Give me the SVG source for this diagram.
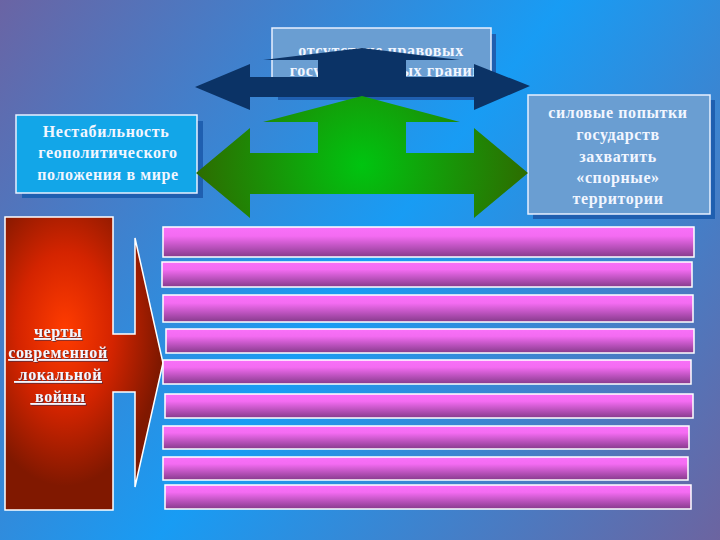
<svg xmlns="http://www.w3.org/2000/svg" width="720" height="540" viewBox="0 0 720 540">
<defs>
<linearGradient id="bg" x1="0" y1="0" x2="720" y2="540" gradientUnits="userSpaceOnUse">
<stop offset="0" stop-color="#6a64a4"/>
<stop offset="0.5" stop-color="#189cf4"/>
<stop offset="1" stop-color="#6c64a0"/>
</linearGradient>
<radialGradient id="gr" cx="362" cy="165" r="170" gradientUnits="userSpaceOnUse">
<stop offset="0" stop-color="#00c410"/>
<stop offset="1" stop-color="#2e6a00"/>
</radialGradient>
<radialGradient id="rd" cx="65" cy="330" r="120" gradientTransform="translate(65 330) scale(0.8 1.3) translate(-65 -330)" gradientUnits="userSpaceOnUse">
<stop offset="0" stop-color="#ff3c00"/>
<stop offset="0.5" stop-color="#d42400"/>
<stop offset="1" stop-color="#801800"/>
</radialGradient>
<linearGradient id="pk" x1="0" y1="0" x2="0" y2="1">
<stop offset="0" stop-color="#f870f8"/>
<stop offset="0.3" stop-color="#f46cf2"/>
<stop offset="1" stop-color="#863a8c"/>
</linearGradient>
<filter id="sh" x="-10%" y="-10%" width="120%" height="120%">
<feOffset dx="1" dy="1" in="SourceAlpha" result="o"/>
<feFlood flood-color="#2a2a4a" flood-opacity="0.6"/>
<feComposite in2="o" operator="in"/>
<feMerge><feMergeNode/><feMergeNode in="SourceGraphic"/></feMerge>
</filter>
</defs>
<style>
.t{font-family:"Liberation Serif","DejaVu Serif",serif;font-weight:bold;font-size:16px;fill:#f2f6ff;text-anchor:middle;letter-spacing:0.6px}
.box{stroke:#e8f0ff;stroke-width:1.5}
.shd{fill:#1f5fb0}
.bar{fill:url(#pk);stroke:#ffffff;stroke-width:1.5}
</style>
<rect width="720" height="540" fill="url(#bg)"/>

<g id="top-box">
<rect class="shd" x="278" y="34" width="218" height="66"/>
<rect class="box" x="272" y="28" width="219" height="67" fill="#6a9ed2"/>
<text class="t" x="381" y="56">отсутствие правовых</text>
<text class="t" x="386" y="76">государственных границ</text>
</g>

<g id="left-box">
<rect class="shd" x="22" y="121" width="181" height="77"/>
<rect class="box" x="16" y="115" width="181" height="78" fill="#12a6e8"/>
<text class="t" x="106" y="137">Нестабильность</text>
<text class="t" x="108" y="158">геополитического</text>
<text class="t" x="108" y="180">положения в мире</text>
</g>

<g id="right-box">
<rect class="shd" x="533" y="100" width="182" height="119"/>
<rect class="box" x="528" y="95" width="182" height="119" fill="#6a9ed2"/>
<text class="t" x="618" y="118">силовые попытки</text>
<text class="t" x="618" y="140">государств</text>
<text class="t" x="618" y="162">захватить</text>
<text class="t" x="618" y="183">«спорные»</text>
<text class="t" x="618" y="204">территории</text>
</g>

<g id="connectors">
<path id="dark-arrow" fill="#0b3366" d="M195,87 L250,64 V77 H318 V60 H263 L362,48 L460,60 H406 V77 H474 V64 L530,86 L474,110 V97 H250 V110 Z"/>
<path id="green-arrow" fill="url(#gr)" d="M196,173 L250,128 V153 H318 V122 H263 L362,96 L460,122 H406 V153 H474 V128 L528,173 L474,218 V194 H250 V218 Z"/>
</g>

<g id="red-node">
<path fill="url(#rd)" stroke="#ffffff" stroke-width="1.5" d="M5,217 H113 V334 H135 V238 L163,363 L135,487 V392 H113 V510 H5 Z"/>
<g filter="url(#sh)" style="text-decoration:underline">
<text class="t" x="58" y="337" text-decoration="underline">черты</text>
<text class="t" x="58" y="358" text-decoration="underline">современной</text>
<text class="t" x="58" y="380" text-decoration="underline" xml:space="preserve"> локальной</text>
<text class="t" x="58" y="402" text-decoration="underline" xml:space="preserve"> войны</text>
</g>
</g>

<g id="bars">
<rect id="bar1" class="bar" x="163" y="227" width="531" height="30"/>
<rect id="bar2" class="bar" x="162" y="262" width="530" height="25"/>
<rect id="bar3" class="bar" x="163" y="295" width="530" height="27"/>
<rect id="bar4" class="bar" x="166" y="329" width="528" height="24"/>
<rect id="bar5" class="bar" x="163" y="360" width="528" height="24"/>
<rect id="bar6" class="bar" x="165" y="394" width="528" height="24"/>
<rect id="bar7" class="bar" x="163" y="426" width="526" height="23"/>
<rect id="bar8" class="bar" x="163" y="457" width="525" height="23"/>
<rect id="bar9" class="bar" x="165" y="485" width="526" height="24"/>
</g>
</svg>
